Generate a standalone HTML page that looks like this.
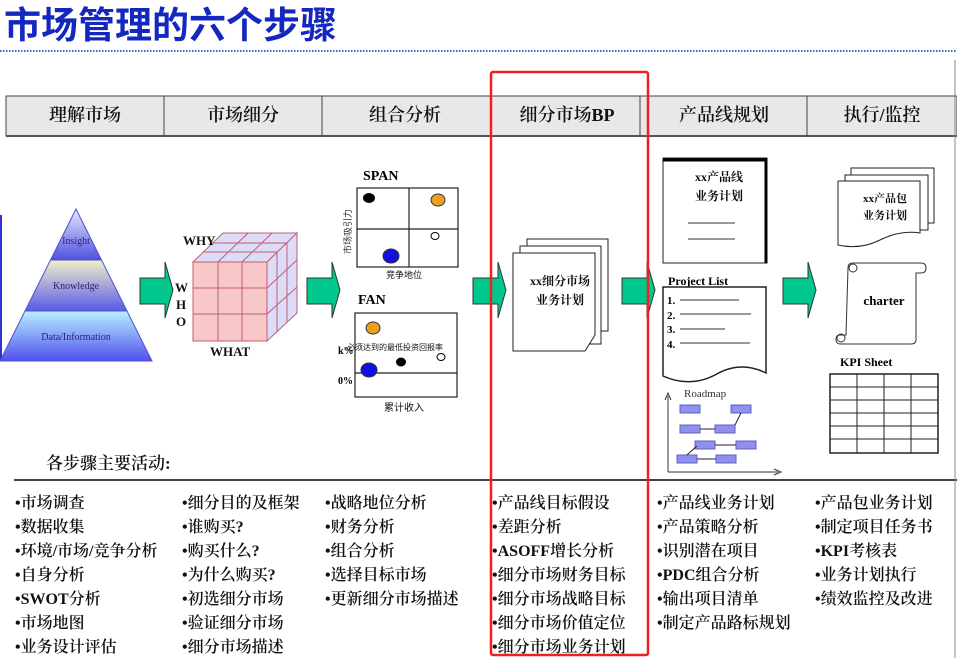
<!DOCTYPE html>
<html><head><meta charset="utf-8"><style>
html,body{margin:0;padding:0;background:#fff;}
svg{display:block;}
.s{font-family:"Liberation Serif","Noto Serif CJK SC",serif;}
.h{font-family:"Liberation Sans","Noto Sans CJK SC",sans-serif;}
</style></head><body>
<svg width="957" height="658" viewBox="0 0 957 658" xmlns="http://www.w3.org/2000/svg">
<defs>
<linearGradient id="g1" x1="0" y1="0" x2="0" y2="1"><stop offset="0" stop-color="#e8e8ff"/><stop offset="1" stop-color="#5050e0"/></linearGradient>
<linearGradient id="g2" x1="0" y1="0" x2="0" y2="1"><stop offset="0" stop-color="#f0f0c8"/><stop offset="1" stop-color="#5a5ae8"/></linearGradient>
<linearGradient id="g3" x1="0" y1="0" x2="0" y2="1"><stop offset="0" stop-color="#b8f0ff"/><stop offset="1" stop-color="#5050f0"/></linearGradient>
<clipPath id="pc"><polygon points="76,209 0,361 152,361"/></clipPath>
<g id="arr"><polygon points="0,16 25,16 25,0 33,28 25,56 25,42 0,42" fill="#00c88c" stroke="#333" stroke-width="1"/></g>
</defs>
<text x="4" y="38" class="h" font-size="37" font-weight="bold" fill="#1428c0">市场管理的六个步骤</text>
<line x1="0" y1="51" x2="957" y2="51" stroke="#4060d0" stroke-width="2" stroke-dasharray="1.5,1.5"/>

<rect x="6" y="96" width="951" height="40" fill="#e8e8e8" stroke="#444" stroke-width="1"/>
<line x1="6" y1="136" x2="957" y2="136" stroke="#555" stroke-width="2"/>
<g stroke="#444" stroke-width="1"><line x1="164" y1="96" x2="164" y2="136"/><line x1="322" y1="96" x2="322" y2="136"/><line x1="640" y1="96" x2="640" y2="136"/><line x1="807" y1="96" x2="807" y2="136"/></g>
<g class="s" font-size="18" font-weight="600" fill="#111" text-anchor="middle">
<text x="85" y="121">理解市场</text><text x="243" y="121">市场细分</text><text x="405" y="121">组合分析</text><text x="567" y="121">细分市场<tspan font-weight="bold">BP</tspan></text><text x="724" y="121">产品线规划</text><text x="882" y="121">执行/监控</text>
</g>

<line x1="1" y1="215" x2="1" y2="360" stroke="#3030d0" stroke-width="2"/>
<g clip-path="url(#pc)"><rect x="0" y="209" width="152" height="51" fill="url(#g1)"/><rect x="0" y="260" width="152" height="51" fill="url(#g2)"/><rect x="0" y="311" width="152" height="50" fill="url(#g3)"/></g>
<polygon points="76,209 0,361 152,361" fill="none" stroke="#5050d0"/>
<line x1="51" y1="260" x2="101" y2="260" stroke="#5050d0"/><line x1="25" y1="311" x2="127" y2="311" stroke="#5050d0"/>
<g class="s" font-size="10" fill="#302080" text-anchor="middle"><text x="76" y="244">Insight</text><text x="76" y="289">Knowledge</text><text x="76" y="340">Data/Information</text></g>

<use href="#arr" x="140" y="262"/>
<use href="#arr" x="307" y="262"/>
<use href="#arr" x="473" y="262"/>
<use href="#arr" x="622" y="262"/>
<use href="#arr" x="783" y="262"/>

<polygon points="193,262 223,233 297,233 267,262" fill="#dcdcf8" stroke="#c06070"/>
<polygon points="267,262 297,233 297,313 267,341" fill="#dcdcf8" stroke="#c06070"/>
<rect x="193" y="262" width="74" height="79" fill="#f8c8c8" stroke="#c06070"/>
<g stroke="#c06070" stroke-width="1" fill="none">
<line x1="218" y1="262" x2="218" y2="341"/><line x1="242" y1="262" x2="242" y2="341"/><line x1="193" y1="288" x2="267" y2="288"/><line x1="193" y1="314" x2="267" y2="314"/>
<line x1="203" y1="252" x2="277" y2="252"/><line x1="213" y1="243" x2="287" y2="243"/><line x1="218" y1="262" x2="248" y2="233"/><line x1="242" y1="262" x2="272" y2="233"/>
<line x1="277" y1="252" x2="277" y2="331"/><line x1="287" y1="243" x2="287" y2="322"/><line x1="267" y1="288" x2="297" y2="260"/><line x1="267" y1="314" x2="297" y2="287"/>
</g>
<g class="s" font-size="13" font-weight="bold" fill="#111"><text x="183" y="245">WHY</text><text x="175" y="292">W</text><text x="176" y="309">H</text><text x="176" y="326">O</text><text x="210" y="356">WHAT</text></g>

<text x="363" y="180" class="s" font-size="14" font-weight="bold">SPAN</text>
<rect x="357" y="188" width="101" height="79" fill="#fff" stroke="#222" stroke-width="1.2"/>
<line x1="409" y1="188" x2="409" y2="267" stroke="#222" stroke-width="1.2"/><line x1="357" y1="229" x2="458" y2="229" stroke="#222" stroke-width="1.2"/>
<ellipse cx="369" cy="198" rx="6" ry="5" fill="#000"/><ellipse cx="438" cy="200" rx="7" ry="6" fill="#f0a020" stroke="#333"/><ellipse cx="435" cy="236" rx="4" ry="3.5" fill="#fff" stroke="#000"/><ellipse cx="391" cy="256" rx="8" ry="7" fill="#1010e0" stroke="#333"/>
<text transform="translate(351,254) rotate(-90)" class="h" font-size="9" fill="#333">市场吸引力</text>
<text x="386" y="278" class="h" font-size="9" fill="#111">竞争地位</text>
<text x="358" y="304" class="s" font-size="14" font-weight="bold">FAN</text>
<rect x="355" y="313" width="102" height="84" fill="#fff" stroke="#222" stroke-width="1.2"/>
<line x1="355" y1="373" x2="457" y2="373" stroke="#222" stroke-width="1.2"/>
<ellipse cx="373" cy="328" rx="7" ry="6" fill="#f0a020" stroke="#333"/><ellipse cx="401" cy="362" rx="5" ry="4.5" fill="#000"/><ellipse cx="441" cy="357" rx="4" ry="3.5" fill="#fff" stroke="#000"/><ellipse cx="369" cy="370" rx="8" ry="7" fill="#1010e0" stroke="#333"/>
<text x="347" y="350" class="h" font-size="8" fill="#111">必须达到的最低投资回报率</text>
<text x="338" y="354" class="s" font-size="10" font-weight="bold">k%</text><text x="338" y="384" class="s" font-size="10" font-weight="bold">0%</text>
<text x="384" y="411" class="h" font-size="10" fill="#111">累计收入</text>

<rect x="527" y="239" width="81" height="92" fill="#fff" stroke="#222"/>
<rect x="520" y="246" width="81" height="98" fill="#fff" stroke="#222"/>
<polygon points="513,253 595,253 595,335 585,351 513,351" fill="#fff" stroke="#222"/>
<g class="s" font-size="12" font-weight="bold" text-anchor="middle" fill="#111"><text x="560" y="285">xx细分市场</text><text x="560" y="304">业务计划</text></g>

<rect x="663" y="158" width="104" height="105" fill="#fff" stroke="#222"/>
<line x1="663" y1="160" x2="767" y2="160" stroke="#000" stroke-width="3"/><line x1="766" y1="158" x2="766" y2="263" stroke="#000" stroke-width="3"/>
<g class="s" font-size="12" font-weight="bold" text-anchor="middle" fill="#111"><text x="719" y="181">xx产品线</text><text x="719" y="200">业务计划</text></g>
<line x1="688" y1="223" x2="735" y2="223" stroke="#333"/><line x1="688" y1="239" x2="735" y2="239" stroke="#333"/>
<text x="668" y="285" class="s" font-size="12" font-weight="bold">Project List</text>
<path d="M663,287 L766,287 L766,373 Q740,360 715,375 Q690,388 663,376 Z" fill="#fff" stroke="#222" stroke-width="1.5"/>
<g class="s" font-size="11" font-weight="bold"><text x="667" y="304">1.</text><text x="667" y="319">2.</text><text x="667" y="333">3.</text><text x="667" y="348">4.</text></g>
<g stroke="#333"><line x1="680" y1="300" x2="739" y2="300"/><line x1="680" y1="314" x2="751" y2="314"/><line x1="680" y1="329" x2="725" y2="329"/><line x1="680" y1="343" x2="750" y2="343"/></g>
<text x="684" y="397" class="s" font-size="11" fill="#333">Roadmap</text>
<path d="M668,472 L668,396 M665,400 L668,393 L671,400 M668,472 L778,472 M774,469 L781,472 L774,475" stroke="#333" fill="none"/>
<g fill="#9090f0" stroke="#6060c0"><rect x="680" y="405" width="20" height="8"/><rect x="731" y="405" width="20" height="8"/><rect x="680" y="425" width="20" height="8"/><rect x="715" y="425" width="20" height="8"/><rect x="695" y="441" width="20" height="8"/><rect x="736" y="441" width="20" height="8"/><rect x="677" y="455" width="20" height="8"/><rect x="716" y="455" width="20" height="8"/></g>
<g stroke="#222"><line x1="700" y1="429" x2="715" y2="429"/><line x1="735" y1="425" x2="741" y2="413"/><line x1="715" y1="445" x2="736" y2="445"/><line x1="697" y1="459" x2="716" y2="459"/><line x1="687" y1="455" x2="697" y2="446"/></g>

<rect x="851" y="168" width="83" height="55" fill="#fff" stroke="#222"/>
<rect x="845" y="175" width="83" height="55" fill="#fff" stroke="#222"/>
<path d="M838,181 L920,181 L920,233 Q900,230 880,240 Q860,250 838,245 Z" fill="#fff" stroke="#222"/>
<g class="s" font-size="11" font-weight="bold" text-anchor="middle" fill="#111"><text x="885" y="202">xx产品包</text><text x="885" y="219">业务计划</text></g>
<path d="M848,268 Q848,263 853,263 L921,263 Q926,263 926,268 Q926,273 921,273 L916,273 L916,340 Q916,344 911,344 L840,344 Q836,344 836,339 Q836,335 840,335 L846,335 Z" fill="#fff" stroke="#333"/>
<circle cx="853" cy="268" r="4" fill="none" stroke="#333"/><circle cx="841" cy="338" r="4" fill="none" stroke="#333"/>
<text x="884" y="305" class="s" font-size="13" font-weight="bold" text-anchor="middle">charter</text>
<text x="840" y="366" class="s" font-size="12" font-weight="bold">KPI Sheet</text>
<rect x="830" y="374" width="108" height="79" fill="#fff" stroke="#222" stroke-width="1.5"/>
<g stroke="#222"><line x1="857" y1="374" x2="857" y2="453"/><line x1="884" y1="374" x2="884" y2="453"/><line x1="911" y1="374" x2="911" y2="453"/>
<line x1="830" y1="387" x2="938" y2="387"/><line x1="830" y1="400" x2="938" y2="400"/><line x1="830" y1="413" x2="938" y2="413"/><line x1="830" y1="426" x2="938" y2="426"/><line x1="830" y1="439" x2="938" y2="439"/></g>

<text x="46" y="469" class="s" font-size="17" font-weight="600" fill="#111">各步骤主要活动:</text>
<line x1="14" y1="480" x2="957" y2="480" stroke="#444" stroke-width="2"/>
<g class="s" font-size="16" font-weight="600" fill="#111">
<text x="15" y="508">•市场调查</text><text x="15" y="532">•数据收集</text><text x="15" y="556">•环境/市场/竞争分析</text><text x="15" y="580">•自身分析</text><text x="15" y="604">•<tspan font-weight="bold">SWOT</tspan>分析</text><text x="15" y="628">•市场地图</text><text x="15" y="652">•业务设计评估</text>
<text x="182" y="508">•细分目的及框架</text><text x="182" y="532">•谁购买?</text><text x="182" y="556">•购买什么?</text><text x="182" y="580">•为什么购买?</text><text x="182" y="604">•初选细分市场</text><text x="182" y="628">•验证细分市场</text><text x="182" y="652">•细分市场描述</text>
<text x="325" y="508">•战略地位分析</text><text x="325" y="532">•财务分析</text><text x="325" y="556">•组合分析</text><text x="325" y="580">•选择目标市场</text><text x="325" y="604">•更新细分市场描述</text>
<text x="492" y="508">•产品线目标假设</text><text x="492" y="532">•差距分析</text><text x="492" y="556">•<tspan font-weight="bold">ASOFF</tspan>增长分析</text><text x="492" y="580">•细分市场财务目标</text><text x="492" y="604">•细分市场战略目标</text><text x="492" y="628">•细分市场价值定位</text><text x="492" y="652">•细分市场业务计划</text>
<text x="657" y="508">•产品线业务计划</text><text x="657" y="532">•产品策略分析</text><text x="657" y="556">•识别潜在项目</text><text x="657" y="580">•<tspan font-weight="bold">PDC</tspan>组合分析</text><text x="657" y="604">•输出项目清单</text><text x="657" y="628">•制定产品路标规划</text>
<text x="815" y="508">•产品包业务计划</text><text x="815" y="532">•制定项目任务书</text><text x="815" y="556">•<tspan font-weight="bold">KPI</tspan>考核表</text><text x="815" y="580">•业务计划执行</text><text x="815" y="604">•绩效监控及改进</text>
</g>
<line x1="955" y1="60" x2="955" y2="658" stroke="#888"/>
<rect x="491" y="72" width="157" height="583" fill="none" stroke="#f02020" stroke-width="2.5" rx="2"/>
</svg>
</body></html>
